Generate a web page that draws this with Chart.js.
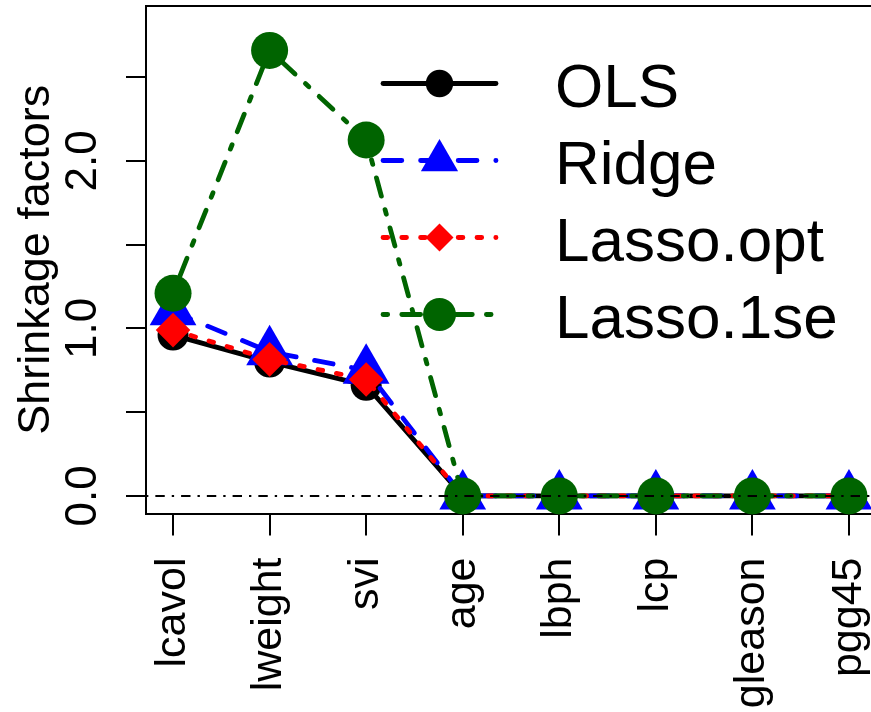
<!DOCTYPE html>
<html><head><meta charset="utf-8">
<style>html,body{margin:0;padding:0;overflow:hidden;background:#fff;width:871px;height:712px}</style>
<script src="https://cdn.jsdelivr.net/npm/chart.js@4"></script>
</head><body>
<canvas id="c" width="876" height="712" style="display:block;width:876px;height:712px"></canvas>
<script>
const categories = ['lcavol','lweight','svi','age','lbph','lcp','gleason','pgg45'];
const olsValues = [0.96, 0.80, 0.66, 0, 0, 0, 0, 0];
const ridgeValues = [1.10, 0.86, 0.75, 0, 0, 0, 0, 0];
const lassoOptValues = [0.99, 0.815, 0.695, 0, 0, 0, 0, 0];
const lasso1seValues = [1.21, 2.66, 2.125, 0, 0, 0, 0, 0];
const seriesNames = ['OLS', 'Ridge', 'Lasso.opt', 'Lasso.1se'];
const yTickLabels = {0: '0.0', 1: '1.0', 2: '2.0'};
const yAxisTitle = 'Shrinkage factors';

const FONT = '"Liberation Sans", Arial, Helvetica, sans-serif';
const LW = 4.8;
const toXY = arr => arr.map((v, i) => ({x: i + 1, y: v}));

const styles = [
  {color: '#000000', dash: [], point: 'circle', r: 15.5, lr: 13.7},
  {color: '#0000FF', dash: [18.8, 18.8], point: 'triangle', r: 27, lr: 21.5},
  {color: '#FF0000', dash: [4.7, 14.1], point: 'rectRot', r: 17.3, lr: 14},
  {color: '#006400', dash: [4.7, 14.1, 18.8, 14.1], point: 'circle', r: 18.5, lr: 16.5}
];
const seriesValues = [olsValues, ridgeValues, lassoOptValues, lasso1seValues];

const datasets = seriesValues.map((vals, i) => ({
  label: seriesNames[i],
  data: toXY(vals),
  borderColor: styles[i].color,
  backgroundColor: styles[i].color,
  borderWidth: LW,
  borderDash: styles[i].dash,
  borderCapStyle: 'round',
  borderJoinStyle: 'round',
  pointStyle: styles[i].point,
  pointRadius: styles[i].r,
  pointBackgroundColor: styles[i].color,
  pointBorderWidth: 0,
  pointHoverRadius: styles[i].r,
  tension: 0,
  fill: false,
  clip: 40,
  order: 4 - i
}));

function drawMarker(ctx, style, r, x, y, color) {
  ctx.save();
  ctx.fillStyle = color;
  ctx.beginPath();
  if (style === 'circle') {
    ctx.arc(x, y, r, 0, Math.PI * 2);
  } else if (style === 'triangle') {
    ctx.moveTo(x, y - r);
    ctx.lineTo(x + r * Math.sqrt(3) / 2, y + r / 2);
    ctx.lineTo(x - r * Math.sqrt(3) / 2, y + r / 2);
    ctx.closePath();
  } else {
    ctx.moveTo(x - r, y); ctx.lineTo(x, y - r); ctx.lineTo(x + r, y); ctx.lineTo(x, y + r);
    ctx.closePath();
  }
  ctx.fill();
  ctx.restore();
}

const framePlugin = {
  id: 'frameZero',
  afterDatasetsDraw(chart) {
    const {ctx, chartArea: a, scales} = chart;
    ctx.save();
    const y0 = scales.y.getPixelForValue(0);
    ctx.strokeStyle = '#000';
    ctx.lineWidth = 2;
    ctx.setLineDash([2.35, 7, 9.4, 7]);
    ctx.beginPath();
    ctx.moveTo(a.left, y0); ctx.lineTo(a.right, y0);
    ctx.stroke();
    ctx.setLineDash([]);
    ctx.beginPath();
    ctx.moveTo(a.left, a.top); ctx.lineTo(a.right, a.top); ctx.lineTo(a.right, a.bottom);
    ctx.stroke();
    ctx.restore();
  },
  afterDraw(chart) {
    const ctx = chart.ctx;
    const x0 = 383, x1 = 496, xm = 439.5, tx = 555;
    seriesNames.forEach((name, i) => {
      const y = 83.5 + i * 77;
      const s = styles[i];
      ctx.save();
      ctx.strokeStyle = s.color;
      ctx.lineWidth = LW;
      ctx.lineCap = 'round';
      ctx.setLineDash(s.dash);
      ctx.beginPath();
      ctx.moveTo(x0, y); ctx.lineTo(x1, y);
      ctx.stroke();
      ctx.restore();
      drawMarker(ctx, s.point, s.lr, xm, y, s.color);
      ctx.save();
      ctx.fillStyle = '#000';
      ctx.font = '62px ' + FONT;
      ctx.textBaseline = 'alphabetic';
      ctx.textAlign = 'left';
      ctx.fillText(name, tx, y + 23);
      ctx.restore();
    });
  }
};

new Chart(document.getElementById('c'), {
  type: 'line',
  data: {datasets},
  plugins: [framePlugin],
  options: {
    responsive: false,
    animation: false,
    events: [],
    layout: {autoPadding: false, padding: {top: 6, left: 0, right: 0, bottom: 0}},
    plugins: {legend: {display: false}, tooltip: {enabled: false}},
    scales: {
      x: {
        type: 'linear', position: 'bottom', min: 0.72, max: 8.28,
        ticks: {
          stepSize: 1, autoSkip: false, includeBounds: false,
          minRotation: 90, maxRotation: 90, padding: 22,
          color: '#000', font: {family: FONT, size: 43},
          callback: v => (Number.isInteger(v) && categories[v - 1]) ? categories[v - 1] : ''
        },
        grid: {drawOnChartArea: false, drawTicks: true, tickLength: 22, color: '#000', lineWidth: 2},
        border: {display: true, color: '#000', width: 2},
        afterFit: s => { s.height = 198.5; s.paddingLeft = 0; s.paddingRight = 0; }
      },
      y: {
        type: 'linear', position: 'left', min: -0.105, max: 2.925,
        ticks: {
          stepSize: 0.5, autoSkip: false, includeBounds: false,
          minRotation: 90, maxRotation: 90, crossAlign: 'center', padding: 11.5,
          color: '#000', font: {family: FONT, size: 44},
          callback: v => yTickLabels[v] !== undefined ? yTickLabels[v] : ''
        },
        grid: {drawOnChartArea: false, drawTicks: true, tickLength: 20, color: '#000', lineWidth: 2},
        border: {display: true, color: '#000', width: 2},
        title: {display: true, text: yAxisTitle, color: '#000',
                font: {family: FONT, size: 45, lineHeight: 1.2}, padding: {top: 10, bottom: 0}},
        afterFit: s => { s.width = 146; s.paddingTop = 0; s.paddingBottom = 0; }
      }
    }
  }
});
</script>
</body></html>
